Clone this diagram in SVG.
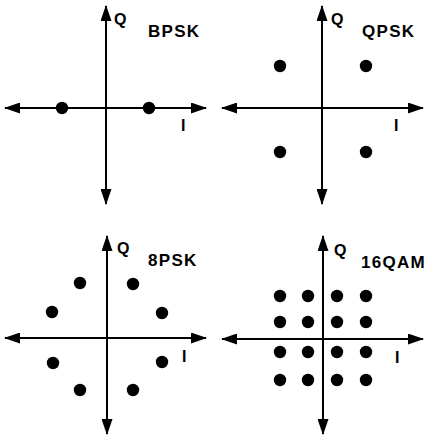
<svg xmlns="http://www.w3.org/2000/svg" width="429" height="435" viewBox="0 0 429 435">
<defs>
<marker id="ah" viewBox="0 0 16 11" refX="15" refY="5.5" markerWidth="16" markerHeight="11" markerUnits="userSpaceOnUse" orient="auto-start-reverse">
<path d="M0,0 L16,5.5 L0,11 Z" fill="#000"/>
</marker>
</defs>
<style>
.ax{stroke:#000;stroke-width:2;fill:none;marker-start:url(#ah);marker-end:url(#ah)}
.pt{fill:#000}
.q{font-family:"Liberation Sans",Arial,sans-serif;font-weight:bold;font-size:16px;fill:#000}
.lb{font-family:"Liberation Sans",Arial,sans-serif;font-weight:bold;font-size:17px;letter-spacing:1.3px;fill:#000}
.i{font-family:"Liberation Sans",Arial,sans-serif;font-weight:bold;font-size:16px;fill:#000}
</style>
<g id="connectors">
<line class="ax" x1="106" y1="204" x2="106" y2="6"/>
<line class="ax" x1="5" y1="108" x2="206" y2="108"/>
<line class="ax" x1="322" y1="204" x2="322" y2="6"/>
<line class="ax" x1="222" y1="108" x2="423" y2="108"/>
<line class="ax" x1="107" y1="434" x2="107" y2="236"/>
<line class="ax" x1="5" y1="338" x2="206" y2="338"/>
<line class="ax" x1="323" y1="434" x2="323" y2="236"/>
<line class="ax" x1="222" y1="339" x2="423" y2="339"/>
</g>
<g id="bpsk">
<text class="q" x="114" y="25">Q</text>
<text class="lb" x="148" y="37">BPSK</text>
<text class="i" x="181" y="131">I</text>
<circle class="pt" cx="62" cy="108" r="6.2"/>
<circle class="pt" cx="149" cy="108" r="6.2"/>
</g>
<g id="qpsk">
<text class="q" x="331" y="25">Q</text>
<text class="lb" x="362" y="37">QPSK</text>
<text class="i" x="394" y="131">I</text>
<circle class="pt" cx="280" cy="66" r="6.2"/>
<circle class="pt" cx="366" cy="66" r="6.2"/>
<circle class="pt" cx="280" cy="152" r="6.2"/>
<circle class="pt" cx="366" cy="152" r="6.2"/>
</g>
<g id="8psk">
<text class="q" x="117" y="254">Q</text>
<text class="lb" x="148" y="266">8PSK</text>
<text class="i" x="182" y="362">I</text>
<circle class="pt" cx="80" cy="283" r="6.2"/>
<circle class="pt" cx="133" cy="284" r="6.2"/>
<circle class="pt" cx="52" cy="312" r="6.2"/>
<circle class="pt" cx="162" cy="313" r="6.2"/>
<circle class="pt" cx="53" cy="363" r="6.2"/>
<circle class="pt" cx="162" cy="362" r="6.2"/>
<circle class="pt" cx="80" cy="390" r="6.2"/>
<circle class="pt" cx="133" cy="390" r="6.2"/>
</g>
<g id="16qam">
<text class="q" x="334" y="256">Q</text>
<text class="lb" x="361" y="268">16QAM</text>
<text class="i" x="395" y="363">I</text>
<circle class="pt" cx="280" cy="296" r="6.2"/>
<circle class="pt" cx="308" cy="296" r="6.2"/>
<circle class="pt" cx="337" cy="296" r="6.2"/>
<circle class="pt" cx="366" cy="296" r="6.2"/>
<circle class="pt" cx="280" cy="322" r="6.2"/>
<circle class="pt" cx="308" cy="322" r="6.2"/>
<circle class="pt" cx="337" cy="322" r="6.2"/>
<circle class="pt" cx="366" cy="322" r="6.2"/>
<circle class="pt" cx="280" cy="352" r="6.2"/>
<circle class="pt" cx="308" cy="352" r="6.2"/>
<circle class="pt" cx="337" cy="352" r="6.2"/>
<circle class="pt" cx="366" cy="352" r="6.2"/>
<circle class="pt" cx="280" cy="380" r="6.2"/>
<circle class="pt" cx="308" cy="380" r="6.2"/>
<circle class="pt" cx="337" cy="380" r="6.2"/>
<circle class="pt" cx="366" cy="380" r="6.2"/>
</g>
</svg>
